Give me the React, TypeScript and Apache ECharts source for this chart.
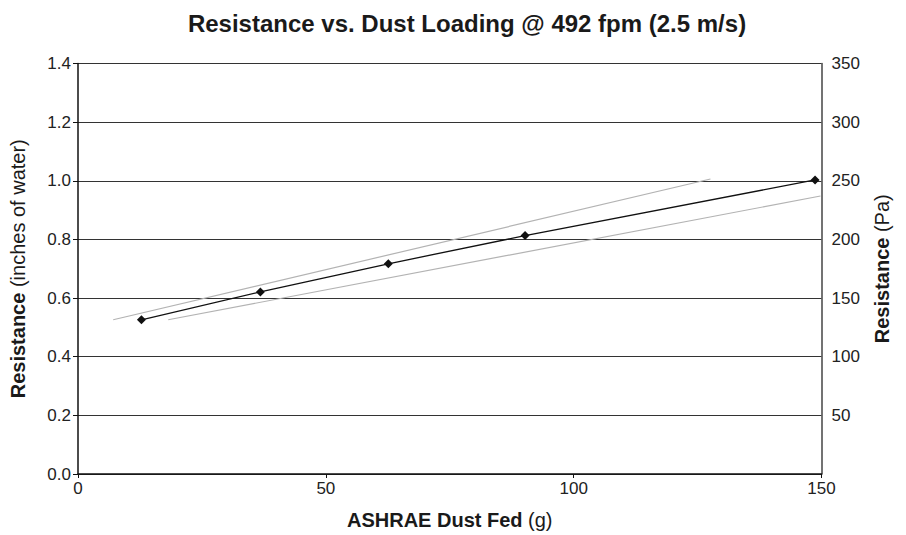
import React, { useEffect, useRef } from "react";
import * as echarts from "echarts";

const dustFed = [12.8, 36.8, 62.6, 90.2, 148.7];
const resistance = [0.526, 0.621, 0.717, 0.813, 1.003];
const upperBandX = [7.1, 127.6];
const upperBandY = [0.526, 1.006];
const lowerBandX = [18.2, 149.8];
const lowerBandY = [0.526, 0.948];
const FONT = "'Liberation Sans Narrow', 'Liberation Sans', Arial, sans-serif";

export default function App() {
  const ref = useRef<HTMLDivElement>(null);
  useEffect(() => {
    if (!ref.current) return;
    const chart = echarts.init(ref.current, undefined, { renderer: "svg" });
    const zip = (xs: number[], ys: number[]) => xs.map((x, i) => [x, ys[i]]);
    const nameStyle = {
      fontFamily: FONT,
      fontSize: 20,
      color: "#1a1a1a",
      rich: { b: { fontFamily: FONT, fontSize: 20, fontWeight: "bold", color: "#1a1a1a" } },
    };
    chart.setOption({
      animation: false,
      backgroundColor: "#ffffff",
      title: {
        text: "Resistance vs. Dust Loading @ 492 fpm (2.5 m/s)",
        left: 462,
        top: 6,
        textAlign: "center",
        textStyle: { fontFamily: FONT, fontWeight: "bold", fontSize: 24, color: "#1a1a1a" },
      },
      grid: { left: 75.5, right: 84.5, top: 63.5, bottom: 57.5 },
      xAxis: {
        type: "value",
        min: 0,
        max: 150,
        interval: 50,
        name: "{b|ASHRAE Dust Fed} (g)",
        nameLocation: "middle",
        nameGap: 36,
        nameTextStyle: nameStyle,
        axisLine: { lineStyle: { color: "#111", width: 1.5 } },
        axisTick: { show: true, length: 4, lineStyle: { color: "#111" } },
        axisLabel: { fontFamily: FONT, fontSize: 17, color: "#222", margin: 6 },
        splitLine: { show: false },
      },
      yAxis: [
        {
          type: "value",
          min: 0,
          max: 1.4,
          interval: 0.2,
          position: "left",
          name: "{b|Resistance} (inches of water)",
          nameLocation: "middle",
          nameGap: 50,
          nameRotate: 90,
          nameTextStyle: nameStyle,
          axisLine: { show: true, lineStyle: { color: "#111", width: 1.5 } },
          axisTick: { show: true, length: 5, lineStyle: { color: "#111" } },
          axisLabel: {
            fontFamily: FONT,
            fontSize: 17,
            color: "#222",
            margin: 7,
            formatter: (v: number) => v.toFixed(1),
          },
          splitLine: { show: true, lineStyle: { color: "#333", width: 1.2 } },
        },
        {
          type: "value",
          min: 0,
          max: 350,
          interval: 50,
          position: "right",
          name: "{b|Resistance} (Pa)",
          nameLocation: "middle",
          nameGap: 50,
          nameRotate: 90,
          nameTextStyle: nameStyle,
          axisLine: { show: true, lineStyle: { color: "#444", width: 1.5 } },
          axisTick: { show: false },
          axisLabel: {
            fontFamily: FONT,
            fontSize: 17,
            color: "#222",
            margin: 10,
            formatter: (v: number) => (v === 0 ? "" : String(v)),
          },
          splitLine: { show: false },
        },
      ],
      series: [
        {
          type: "line",
          data: zip(upperBandX, upperBandY),
          symbol: "none",
          lineStyle: { color: "#b3b3b3", width: 1.2 },
          z: 2,
        },
        {
          type: "line",
          data: zip(lowerBandX, lowerBandY),
          symbol: "none",
          lineStyle: { color: "#b3b3b3", width: 1.2 },
          z: 2,
        },
        {
          type: "line",
          data: zip(dustFed, resistance),
          symbol: "diamond",
          symbolSize: 9,
          itemStyle: { color: "#111" },
          lineStyle: { color: "#111", width: 1.3 },
          z: 3,
        },
      ],
    });
    return () => chart.dispose();
  }, []);
  return <div ref={ref} style={{ width: 906, height: 535, position: "absolute", left: 0, top: 0 }} />;
}
